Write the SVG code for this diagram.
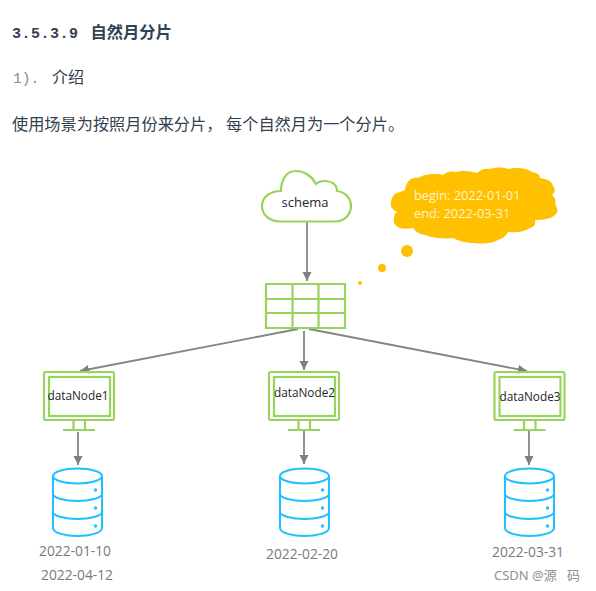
<svg xmlns="http://www.w3.org/2000/svg" width="596" height="591" viewBox="0 0 596 591">
<style>
.g{fill:none;stroke:#98d45c;stroke-width:2.200}
.gf{fill:#fff;stroke:#98d45c;stroke-width:2.200}
.b{fill:none;stroke:#1fc0ff;stroke-width:2}
.d{fill:#1fc0ff}
.c{stroke:#858585;stroke-width:1.800;fill:none;marker-end:url(#a)}
.t{font-family:"Open Sans","Noto Sans","Noto Sans CJK SC",sans-serif;font-size:13px;fill:#262626}
.n{font-family:"Open Sans","Noto Sans",sans-serif;font-size:11.800px;fill:#262626}
.o{font-family:"Open Sans","Noto Sans",sans-serif;font-size:12.800px;fill:#fff4d0}
.l{font-family:"Open Sans","Noto Sans",sans-serif;font-size:13.800px;fill:#7a7a7a}
.cn{font-family:"Noto Sans CJK SC",sans-serif;fill:#33404f}
.m{font-family:"Liberation Mono",monospace}
.y{fill:#ffc000}
</style>
<defs>
<marker id="a" markerUnits="userSpaceOnUse" markerWidth="11" markerHeight="11" refX="9" refY="4.500" orient="auto"><path d="M0 0L9 4.500L0 9Z" fill="#7f7f7f"/></marker>
<g id="mon"><rect x="-34.500" y="-24" width="70" height="48" rx="2" class="g"/><rect x="-29.500" y="-19" width="61" height="39" class="g"/><path d="M-5 24V34M6.500 24V34M-15.500 34H16.500" class="g"/></g>
<g id="db"><path d="M-24.500 0V52C-24.500 57 -12 60 0 60S24.500 57 24.500 52V0" class="b"/><ellipse cx="0" cy="0" rx="24.500" ry="7.500" class="b"/><path d="M-24.500 18C-24.500 22 -12 25 0 25S24.500 22 24.500 18M-24.500 36C-24.500 40 -12 43 0 43S24.500 40 24.500 36" class="b"/><circle cx="18" cy="14" r="1.700" class="d"/><circle cx="18" cy="32" r="1.700" class="d"/><circle cx="18" cy="50" r="1.700" class="d"/></g>
</defs>
<g id="heading">
<text x="12" y="38" class="m" font-size="15" font-weight="700" fill="#33404f" letter-spacing="0.500">3.5.3.9</text>
<text x="90.500" y="38" class="cn" font-size="16.300" font-weight="700">自然月分片</text>
<text x="13" y="83" class="m" font-size="14.500" fill="#8a8a8a">1).</text>
<text x="52" y="83" class="cn" font-size="16">介绍</text>
<text x="12" y="130" class="cn" font-size="16.200">使用场景为按照月份来分片， 每个自然月为一个分片。</text>
</g>
<g id="connectors">
<path class="c" d="M307 222V281"/>
<path class="c" d="M298 329L80 371"/>
<path class="c" d="M304 331V370"/>
<path class="c" d="M309 329L527 371"/>
<path class="c" d="M78 432V465"/>
<path class="c" d="M304 431V464"/>
<path class="c" d="M529 431V465"/>
</g>
<g id="schema">
<path class="gf" d="M280 221.500H335C345 221.500 351 214 351 206C351 198 345 192 337 191C337 184 331 181 325 181C320 181 318 182 316 184C312 176 304 171 296 171C286 171 281 180 281 191C270 191 262 197 262 206C262 215 270 221.500 280 221.500Z"/>
<text x="305" y="207" text-anchor="middle" class="t">schema</text>
</g>
<g id="table">
<path class="g" d="M266 284H345V328H266ZM266 299H345M266 313H345M292.500 284V328M318.500 284V328"/>
</g>
<g id="callout">
<path class="y" d="M405 190C406 181 412 177 418 178C424 174 436 173 443 175C447 171 452 171 456 172C462 170 471 171 477 173C481 169 486 168 490 169C496 167 503 167 508 169C516 167 527 168 532 172C538 173 540 175 540 178C547 179 552 181 553 186C556 189 555 193 552 195C556 198 556 202 555 204C558 208 558 213 555 215C551 219 543 220 535 220C536 225 534 227 530 228C524 232 515 233 508 232C505 237 502 239 498 240C491 244 482 244 475 243C468 243 458 241 453 238C444 239 432 238 425 235C419 234 415 231 413 228C406 229 400 229 398 227C394 225 393 221 394 218C394 215 395 213 397 212C392 210 390 206 391 203C391 198 394 194 397 193C400 192 403 191 405 190Z"/>
<circle cx="407" cy="251" r="6" class="y"/>
<circle cx="382" cy="268" r="4" class="y"/>
<circle cx="360" cy="283" r="2" class="y"/>
<text x="414" y="200" class="o">begin: 2022-01-01</text>
<text x="414" y="218" class="o">end: 2022-03-31</text>
</g>
<g id="dataNode1"><use href="#mon" x="78.500" y="396"/><text x="78" y="400" text-anchor="middle" class="n">dataNode1</text></g>
<g id="dataNode2"><use href="#mon" x="303.500" y="396"/><text x="304.500" y="397" text-anchor="middle" class="n">dataNode2</text></g>
<g id="dataNode3"><use href="#mon" x="529" y="396"/><text x="530" y="401" text-anchor="middle" class="n">dataNode3</text></g>
<g id="db1"><use href="#db" x="77.500" y="476"/><text x="75" y="556" text-anchor="middle" class="l">2022-01-10</text><text x="77" y="580" text-anchor="middle" class="l">2022-04-12</text></g>
<g id="db2"><use href="#db" x="304.500" y="476"/><text x="302" y="559" text-anchor="middle" class="l">2022-02-20</text></g>
<g id="db3"><use href="#db" x="529.500" y="476"/><text x="528" y="557" text-anchor="middle" class="l">2022-03-31</text></g>
<g id="watermark"><text x="494" y="580" font-family="Noto Sans,Noto Sans CJK SC,sans-serif" font-size="13" fill="#8f8f8f">CSDN @源<tspan x="567">码</tspan></text></g>
</svg>
